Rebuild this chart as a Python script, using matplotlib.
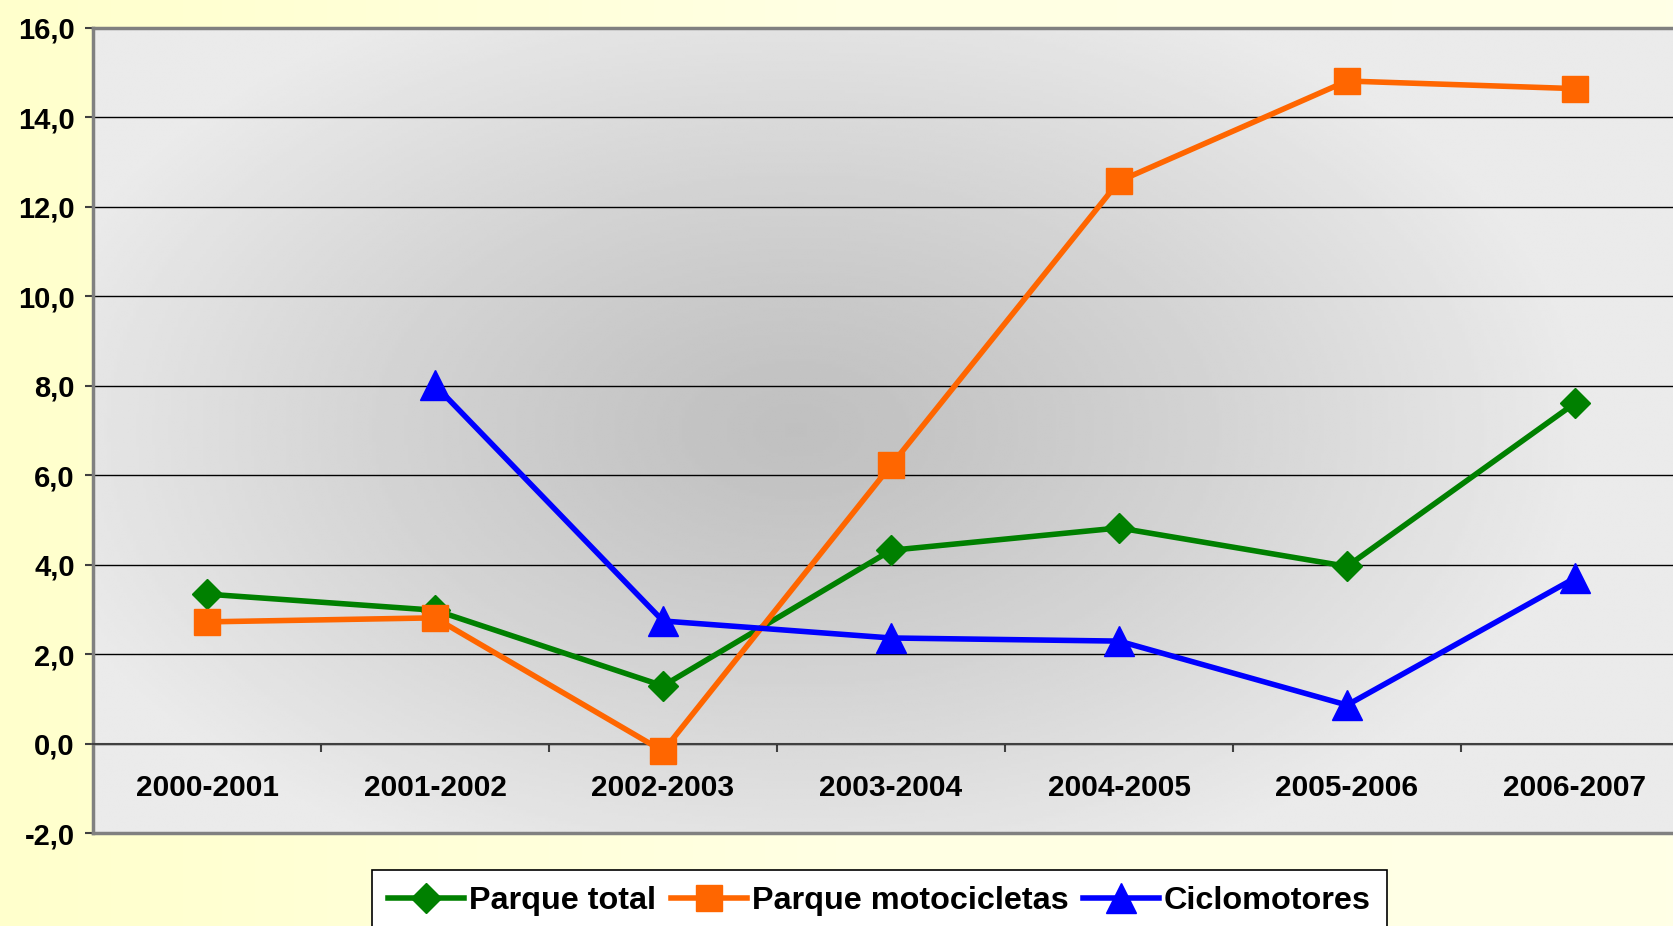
import matplotlib.pyplot as plt
from matplotlib.colors import LinearSegmentedColormap
from matplotlib.ticker import FuncFormatter
import numpy as np

# Datos (variación %)
periodos = ['2000-2001', '2001-2002', '2002-2003', '2003-2004',
            '2004-2005', '2005-2006', '2006-2007']
parque_total = [3.34, 2.98, 1.29, 4.32, 4.82, 3.96, 7.61]
parque_motos = [2.72, 2.81, -0.17, 6.22, 12.57, 14.81, 14.64]
ciclomotores = [np.nan, 8.01, 2.74, 2.36, 2.29, 0.86, 3.70]

plt.rcParams['font.family'] = ['Liberation Sans', 'DejaVu Sans']
plt.rcParams['font.weight'] = 'bold'

fig = plt.figure(figsize=(16.73, 9.26), dpi=100)

# fondo amarillo con degradado
bg = fig.add_axes([0, 0, 1, 1], zorder=-10)
cmap_bg = LinearSegmentedColormap.from_list('bg', ['#FFFFCC', '#FFFFE3', '#FFFFE6'])
bg.imshow(np.linspace(0, 1, 256).reshape(1, -1), aspect='auto', cmap=cmap_bg,
          extent=[0, 1, 0, 1])
bg.axis('off')

ax = fig.add_axes([0.0556, 0.1004, 0.954, 0.8696])

# degradado radial gris del área de trazado
yy, xx = np.mgrid[0:1:300j, 0:1:500j]
d = np.sqrt(((xx - 0.44) / 0.5) ** 2 + ((yy - 0.5) / 0.6) ** 2)
d = np.clip(d, 0, 1) ** 1.2
img = 192 + (235 - 192) * d
ax.imshow(img, cmap='gray', vmin=0, vmax=255, extent=[0, 1, 0, 1],
          transform=ax.transAxes, aspect='auto', zorder=0, interpolation='bilinear')

x = np.arange(len(periodos))
ax.plot(x, parque_total, color='#008000', lw=4, marker='D', ms=14.8,
        label='Parque total', zorder=3)
ax.plot(x, parque_motos, color='#FF6600', lw=4, marker='s', ms=19,
        label='Parque motocicletas', zorder=4)
ax.plot(x, ciclomotores, color='#0000FF', lw=4, marker='^', ms=21,
        label='Ciclomotores', zorder=5)

ax.set_xlim(-0.5, 6.5)
ax.set_ylim(-2, 16)
ax.set_yticks(np.arange(-2, 17, 2))
ax.yaxis.set_major_formatter(FuncFormatter(lambda v, p: f'{v:.1f}'.replace('.', ',')))
ax.yaxis.grid(True, color='black', lw=1)
ax.set_axisbelow(True)

for s in ['left', 'top']:
    ax.spines[s].set_color('#808080')
    ax.spines[s].set_linewidth(2.5)
ax.spines['right'].set_visible(False)
ax.spines['bottom'].set_position(('data', 0))
ax.spines['bottom'].set_color('#404040')
ax.spines['bottom'].set_linewidth(1.5)
ax.axhline(-2, color='#808080', lw=2.5, clip_on=False, zorder=2.5)

ax.set_xticks(np.arange(0.5, 6, 1))
ax.set_xticklabels([])
ax.set_xticks(x, labels=periodos, minor=True)
ax.tick_params(axis='x', which='major', length=6, width=1.5, color='#404040', direction='out')
ax.tick_params(axis='x', which='minor', length=0, pad=22, labelsize=21.5)
ax.tick_params(axis='y', length=6, width=1.5, color='#404040', pad=7, labelsize=21)

leg = fig.legend(loc='upper left', bbox_to_anchor=(0.2224, 0.0605), ncol=3,
                 fontsize=23.3, frameon=True, fancybox=False, edgecolor='black',
                 facecolor='white', framealpha=1, handlelength=2.35,
                 handletextpad=0.15, columnspacing=0.45, borderpad=0.5,
                 borderaxespad=0)
leg.get_frame().set_linewidth(1.2)

fig.savefig('out.png', dpi=100)
